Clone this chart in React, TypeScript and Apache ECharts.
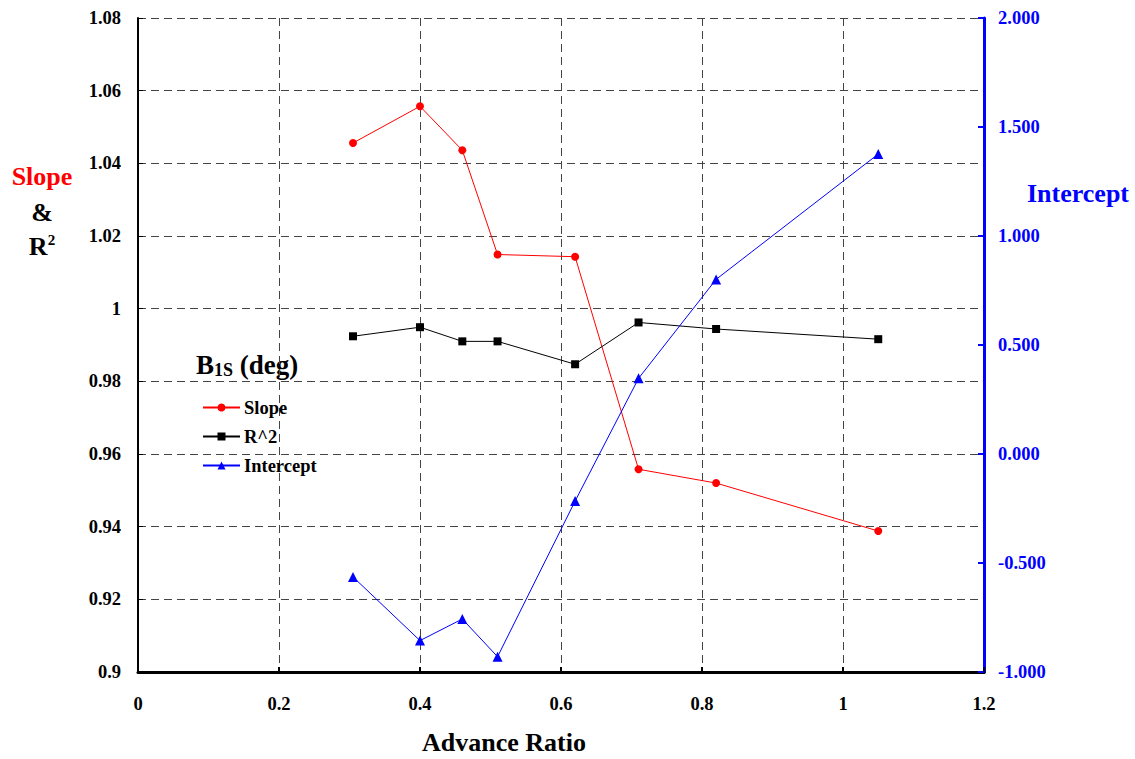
import React, { useEffect, useRef } from "react";
import * as echarts from "echarts";

const advanceRatio = [0.305, 0.4, 0.46, 0.51, 0.62, 0.71, 0.82, 1.05];
const slope = [1.0456, 1.0557, 1.0436, 1.0149, 1.0143, 0.9558, 0.952, 0.9388];
const rSquared = [0.9924, 0.9949, 0.991, 0.991, 0.9847, 0.9962, 0.9944, 0.9916];
const intercept = [-0.564, -0.856, -0.757, -0.93, -0.216, 0.347, 0.801, 1.376];

const FONT = "'Liberation Serif', 'Times New Roman', serif";

export default function App() {
  const ref = useRef<HTMLDivElement>(null);
  useEffect(() => {
    if (!ref.current) return;
    const chart = echarts.init(ref.current, undefined, { renderer: "svg" });
    const pair = (ys: number[]) => advanceRatio.map((x, i) => [x, ys[i]]);
    const gridLine = { show: true, lineStyle: { color: "#444", type: [8, 5], width: 1 } };
    chart.setOption({
      animation: false,
      backgroundColor: "#fff",
      grid: { left: 138, right: 151, top: 18, bottom: 87, containLabel: false },
      xAxis: {
        type: "value",
        min: 0,
        max: 1.2,
        interval: 0.2,
        axisLine: { show: true, onZero: false, lineStyle: { color: "#000", width: 3 } },
        axisTick: { show: true, inside: true, length: 5, lineStyle: { color: "#000", width: 2 } },
        axisLabel: { color: "#000", fontFamily: FONT, fontWeight: "bold", fontSize: 18.5, margin: 22 },
        splitLine: gridLine,
      },
      yAxis: [
        {
          type: "value",
          min: 0.9,
          max: 1.08,
          interval: 0.02,
          axisLine: { show: true, onZero: false, lineStyle: { color: "#000", width: 2 } },
          axisTick: { show: true, inside: true, length: 5, lineStyle: { color: "#000", width: 1 } },
          axisLabel: { color: "#000", fontFamily: FONT, fontWeight: "bold", fontSize: 18.5, margin: 17 },
          splitLine: gridLine,
        },
        {
          type: "value",
          position: "right",
          min: -1,
          max: 2,
          interval: 0.5,
          axisLine: { show: true, onZero: false, lineStyle: { color: "#0000ff", width: 3 } },
          axisTick: { show: true, inside: true, length: 6, lineStyle: { color: "#0000ff", width: 2 } },
          axisLabel: {
            color: "#0000ff",
            fontFamily: FONT,
            fontWeight: "bold",
            fontSize: 18.5,
            margin: 14,
            formatter: (v: number) => v.toFixed(3),
          },
          splitLine: { show: false },
        },
      ],
      legend: {
        orient: "vertical",
        left: 197,
        top: 393,
        itemWidth: 37,
        itemHeight: 10,
        itemGap: 10,
        textStyle: { color: "#000", fontFamily: FONT, fontWeight: "bold", fontSize: 18.5, padding: [0, 0, 0, -1] },
        data: ["Slope", "R^2", "Intercept"],
      },
      series: [
        {
          name: "Slope",
          type: "line",
          yAxisIndex: 0,
          data: pair(slope),
          symbol: "circle",
          symbolSize: 8,
          lineStyle: { color: "#ff0000", width: 1 },
          itemStyle: { color: "#ff0000" },
        },
        {
          name: "R^2",
          type: "line",
          yAxisIndex: 0,
          data: pair(rSquared),
          symbol: "rect",
          symbolSize: 8,
          lineStyle: { color: "#000", width: 1 },
          itemStyle: { color: "#000" },
        },
        {
          name: "Intercept",
          type: "line",
          yAxisIndex: 1,
          data: pair(intercept),
          symbol: "triangle",
          symbolSize: 10,
          lineStyle: { color: "#0000ff", width: 1 },
          itemStyle: { color: "#0000ff" },
        },
      ],
      graphic: [
        {
          type: "text",
          left: 196,
          top: 351,
          style: {
            text: "{a|B}{b|1S}{a| (deg)}",
            fontFamily: FONT,
            rich: {
              a: { fontFamily: FONT, fontWeight: "bold", fontSize: 27, fill: "#000" },
              b: { fontFamily: FONT, fontWeight: "bold", fontSize: 18, fill: "#000", verticalAlign: "bottom", padding: [11, 0, 0, 0] },
            },
          },
        },
        {
          type: "text",
          x: 42,
          y: 176,
          style: {
            text: "Slope",
            fontFamily: FONT,
            fontWeight: "bold",
            fontSize: 26,
            fill: "#ff0000",
            align: "center",
            verticalAlign: "middle",
          },
        },
        {
          type: "text",
          x: 42,
          y: 212,
          style: {
            text: "&",
            fontFamily: FONT,
            fontWeight: "bold",
            fontSize: 26,
            fill: "#000",
            align: "center",
            verticalAlign: "middle",
          },
        },
        {
          type: "text",
          x: 42,
          y: 246,
          style: {
            text: "{a|R}{b|2}",
            fontFamily: FONT,
            align: "center",
            verticalAlign: "middle",
            rich: {
              a: { fontFamily: FONT, fontWeight: "bold", fontSize: 26, fill: "#000" },
              b: { fontFamily: FONT, fontWeight: "bold", fontSize: 15, fill: "#000", verticalAlign: "top", padding: [0, 0, 12, 0] },
            },
          },
        },
        {
          type: "text",
          x: 1078,
          y: 193,
          style: {
            text: "Intercept",
            fontFamily: FONT,
            fontWeight: "bold",
            fontSize: 26,
            fill: "#0000ff",
            align: "center",
            verticalAlign: "middle",
          },
        },
        {
          type: "text",
          x: 504,
          y: 742,
          style: {
            text: "Advance Ratio",
            fontFamily: FONT,
            fontWeight: "bold",
            fontSize: 26,
            fill: "#000",
            align: "center",
            verticalAlign: "middle",
          },
        },
      ],
    });
    return () => chart.dispose();
  }, []);
  return <div ref={ref} style={{ width: 1135, height: 759, position: "absolute", left: 0, top: 0 }} />;
}
